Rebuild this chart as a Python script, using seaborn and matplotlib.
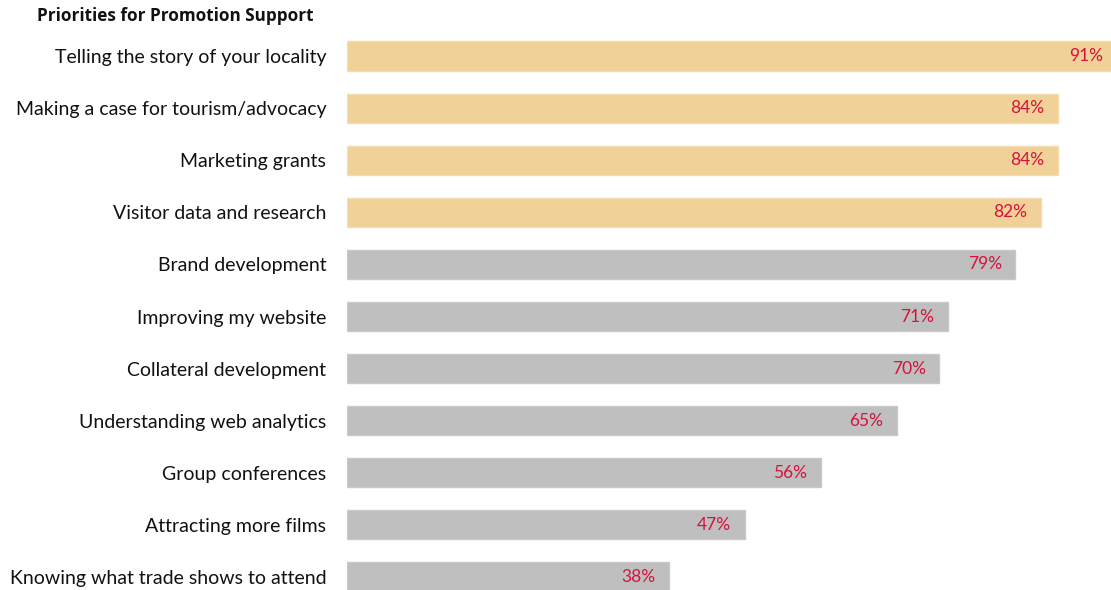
import matplotlib
matplotlib.use("Agg")
import matplotlib.pyplot as plt
import seaborn as sns
import pandas as pd

categories = [
    "Telling the story of your locality",
    "Making a case for tourism/advocacy",
    "Marketing grants",
    "Visitor data and research",
    "Brand development",
    "Improving my website",
    "Collateral development",
    "Understanding web analytics",
    "Group conferences",
    "Attracting more films",
    "Knowing what trade shows to attend",
]
values = [91, 84, 84, 82, 79, 71, 70, 65, 56, 47, 38]
groups = ["top"] * 4 + ["other"] * 7
title = "Priorities for Promotion Support"

sns.set_theme(style="white")
plt.rcParams["font.family"] = ["Lato", "DejaVu Sans"]

df = pd.DataFrame({"cat": categories, "val": values, "grp": groups})
palette = {"top": "#F0D197", "other": "#BFBFBF"}
edges = {"top": "#F5DDB0", "other": "#C8C8C8"}

fig = plt.figure(figsize=(11.11, 5.90), dpi=100)
ax = fig.add_axes([347 / 1111, 0.0, 1 - 347 / 1111, 1 - 30 / 590])
sns.barplot(data=df, x="val", y="cat", hue="grp", palette=palette, dodge=False,
            width=0.56, ax=ax, legend=False, saturation=1)
for patch, g in zip(ax.patches, groups):
    patch.set_edgecolor(edges[g])
    patch.set_linewidth(1)

ax.set_xlim(0, 90.3)
ax.set_ylim(10.25, -0.5)
for i, v in enumerate(values):
    xpos = v - 1.6 if v <= 90 else 89.4
    ax.text(xpos, i, f"{v}%", ha="right", va="center", color="#D6123C", fontsize=12.5)

ax.set_xlabel("")
ax.set_ylabel("")
ax.set_xticks([])
ax.tick_params(axis="y", length=0, pad=15, labelsize=14, labelcolor="#111111")
for s in ax.spines.values():
    s.set_visible(False)

fig.text(37 / 1111, 1 - 16 / 590, title, fontsize=12.3, fontweight="bold", ha="left", va="center",
         color="#111111", family=["Open Sans", "DejaVu Sans"])
fig.savefig("out.png", dpi=100)
